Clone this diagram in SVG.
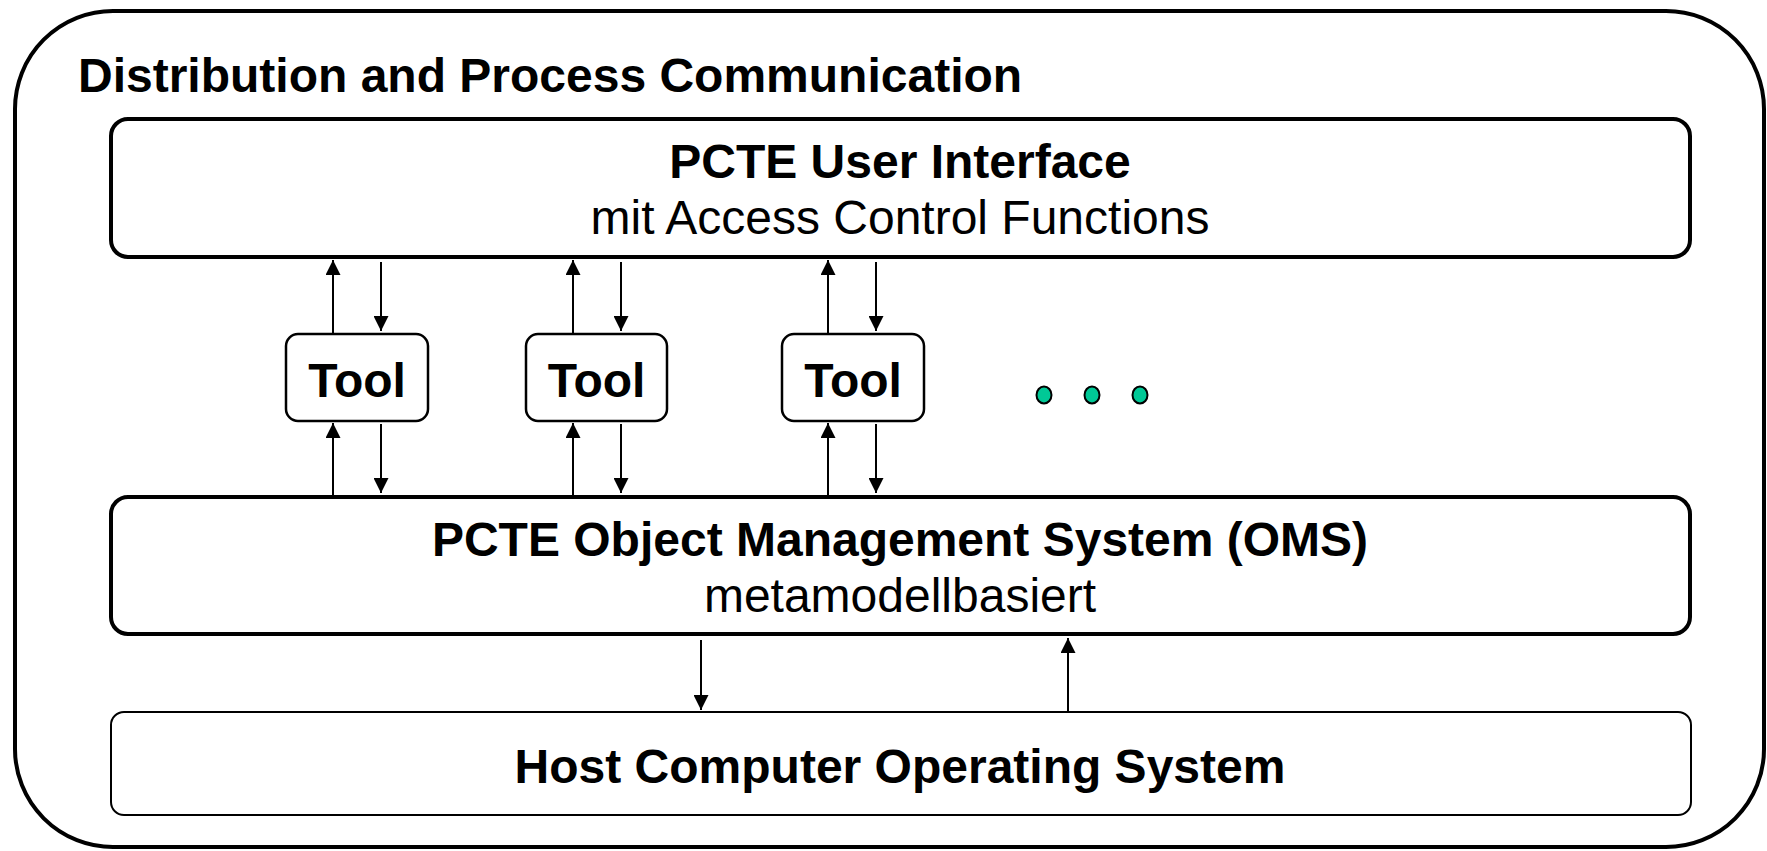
<svg xmlns="http://www.w3.org/2000/svg" width="1767" height="851" viewBox="0 0 1767 851">
<defs>
<style>
.frame{fill:#fff;stroke:#000;stroke-width:4}
.layer{fill:#fff;stroke:#000;stroke-width:4}
.host{fill:#fff;stroke:#000;stroke-width:2}
.tool{fill:#fff;stroke:#000;stroke-width:2.5}
.b{font-family:"Liberation Sans",Arial,sans-serif;font-weight:bold;font-size:48px;fill:#000}
.r{font-family:"Liberation Sans",Arial,sans-serif;font-size:48px;fill:#000}
.arr{stroke:#000;stroke-width:2;fill:none;marker-end:url(#ah)}
.dot{fill:#00c896;stroke:#000;stroke-width:2}
</style>
<marker id="ah" viewBox="0 0 10 10" refX="10" refY="5" markerWidth="7.5" markerHeight="7.5" orient="auto" markerUnits="strokeWidth">
<path d="M0,0 L10,5 L0,10 Z" fill="#000"/>
</marker>
</defs>
<rect x="0" y="0" width="1767" height="851" fill="#fff"/>
<g id="frame">
<rect class="frame" x="15" y="11" width="1749" height="836" rx="98" ry="98"/>
<text class="b" x="78" y="92">Distribution and Process Communication</text>
</g>
<g id="ui">
<rect class="layer" x="111" y="119" width="1579" height="138" rx="17" ry="17"/>
<text class="b" x="900" y="178" text-anchor="middle">PCTE User Interface</text>
<text class="r" x="900" y="234" text-anchor="middle">mit Access Control Functions</text>
</g>
<g id="tool1">
<rect class="tool" x="286" y="334" width="142" height="87" rx="12" ry="12"/>
<text class="b" x="357" y="397" text-anchor="middle">Tool</text>
</g>
<g id="tool2">
<rect class="tool" x="526" y="334" width="141" height="87" rx="12" ry="12"/>
<text class="b" x="596.5" y="397" text-anchor="middle">Tool</text>
</g>
<g id="tool3">
<rect class="tool" x="782" y="334" width="142" height="87" rx="12" ry="12"/>
<text class="b" x="853" y="397" text-anchor="middle">Tool</text>
</g>
<g id="more">
<ellipse class="dot" cx="1044" cy="395" rx="7.5" ry="8.5"/>
<ellipse class="dot" cx="1092" cy="395" rx="7.5" ry="8.5"/>
<ellipse class="dot" cx="1140" cy="395" rx="7.5" ry="8.5"/>
</g>
<g id="oms">
<rect class="layer" x="111" y="497" width="1579" height="137" rx="17" ry="17"/>
<text class="b" x="900" y="556" text-anchor="middle">PCTE Object Management System (OMS)</text>
<text class="r" x="900" y="612" text-anchor="middle">metamodellbasiert</text>
</g>
<g id="host">
<rect class="host" x="111" y="712" width="1580" height="103" rx="13" ry="13"/>
<text class="b" x="900" y="783" text-anchor="middle">Host Computer Operating System</text>
</g>
<g id="connectors">
<line class="arr" x1="333" y1="334" x2="333" y2="260"/>
<line class="arr" x1="381" y1="262" x2="381" y2="331"/>
<line class="arr" x1="333" y1="495" x2="333" y2="423"/>
<line class="arr" x1="381" y1="424" x2="381" y2="493"/>
<line class="arr" x1="573" y1="334" x2="573" y2="260"/>
<line class="arr" x1="621" y1="262" x2="621" y2="331"/>
<line class="arr" x1="573" y1="495" x2="573" y2="423"/>
<line class="arr" x1="621" y1="424" x2="621" y2="493"/>
<line class="arr" x1="828" y1="334" x2="828" y2="260"/>
<line class="arr" x1="876" y1="262" x2="876" y2="331"/>
<line class="arr" x1="828" y1="495" x2="828" y2="423"/>
<line class="arr" x1="876" y1="424" x2="876" y2="493"/>
<line class="arr" x1="701" y1="640" x2="701" y2="710"/>
<line class="arr" x1="1068" y1="711" x2="1068" y2="638"/>
</g>
</svg>
